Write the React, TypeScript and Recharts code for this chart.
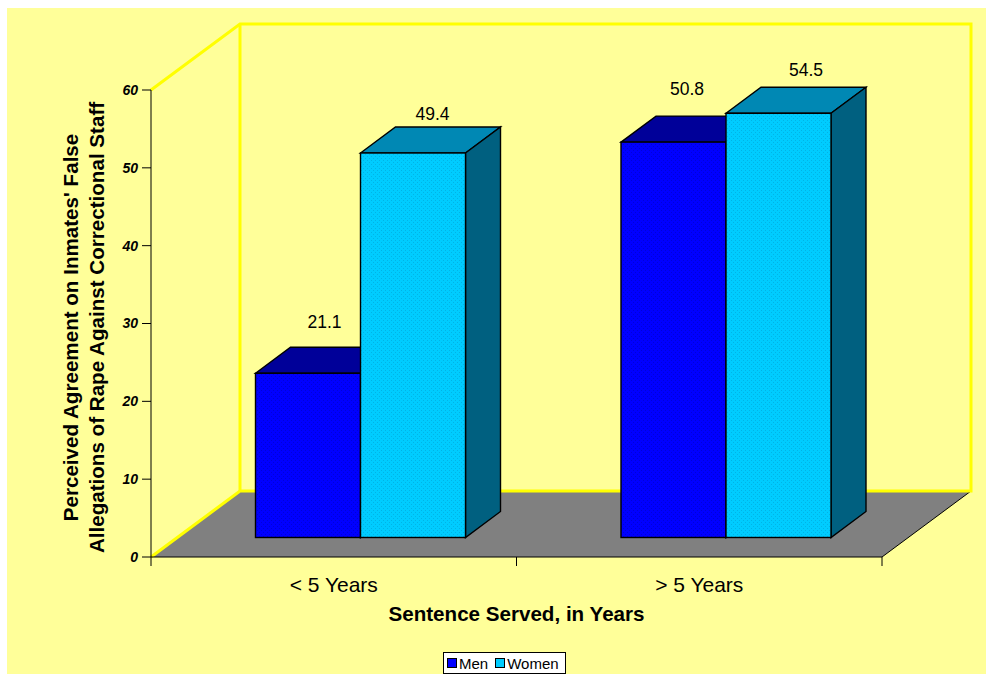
import { BarChart, Bar, XAxis, YAxis, Legend, LabelList } from 'recharts'

const categories = ['< 5 Years', '> 5 Years']
const menValues = [21.1, 50.8]
const womenValues = [49.4, 54.5]
const yTicks = [0, 10, 20, 30, 40, 50, 60]

const chartData = categories.map((name, i) => ({ name, Men: menValues[i], Women: womenValues[i] }))

const W = 979
const H = 666
const plot = { left: 144, top: 82, right: 875, bottom: 549 }
const depth = { x: 89, y: -66 } // wall offset
const barDepth = { x: 35, y: -26 }
const barShift = { x: 26.5, y: -19.5 }
const font = '"Liberation Sans", Arial, sans-serif'

const colors = {
  Men: { front: '#0000ff', dot: '#0000d8', top: '#000099', side: '#000080' },
  Women: { front: '#00ccff', dot: '#00b4e6', top: '#0088b4', side: '#006080', },
}

// small nudges for the value labels, they don't sit evenly in the original
const menLabelNudge = [{ dx: -1, dy: -25 }, { dx: -4, dy: -27 }]
const womenLabelNudge = [{ dx: 2, dy: -13 }, { dx: 10, dy: -17 }]

function Box3D(props: any) {
  const { x, y, width, height, colorKey } = props
  const c = colors[colorKey as 'Men' | 'Women']
  const l = x + barShift.x
  const t = y + barShift.y
  const r = l + width
  const b = t + height
  const dx = barDepth.x
  const dy = barDepth.y
  return (
    <g stroke="#000" strokeWidth={1.4} strokeLinejoin="miter">
      <polygon points={`${l},${t} ${l + dx},${t + dy} ${r + dx},${t + dy} ${r},${t}`} fill={c.top} />
      <polygon points={`${r},${t} ${r + dx},${t + dy} ${r + dx},${b + dy} ${r},${b}`} fill={c.side} />
      <rect x={l} y={t} width={width} height={height} fill={`url(#dots${colorKey})`} />
    </g>
  )
}

function valueLabel(nudge: { dx: number; dy: number }[]) {
  return (props: any) => {
    const { x, y, width, value, index } = props
    const cx = x + barShift.x + width / 2 + barDepth.x / 2 + nudge[index].dx
    const cy = y + barShift.y + barDepth.y + nudge[index].dy
    return (
      <text x={cx} y={cy} textAnchor="middle" dominantBaseline="central" fontSize={17.5} fontFamily={font} fill="#000">
        {value.toFixed(1)}
      </text>
    )
  }
}

function Room() {
  const { left, top, right, bottom } = plot
  const step = (right - left) / categories.length
  const edges = [0, 1, 2].map(i => left + i * step)
  return (
    <g>
      <polygon
        points={`${left},${bottom} ${left + depth.x},${bottom + depth.y} ${right + depth.x},${bottom + depth.y} ${right},${bottom}`}
        fill="#808080"
      />
      <line x1={right} y1={bottom} x2={right + depth.x} y2={bottom + depth.y} stroke="#000" />
      <polyline
        points={`${left},${bottom} ${left + depth.x},${bottom + depth.y} ${right + depth.x},${bottom + depth.y} ${right + depth.x},${top + depth.y} ${left + depth.x},${top + depth.y} ${left},${top}`}
        fill="none"
        stroke="#ffff00"
        strokeWidth={3}
      />
      <line x1={left + depth.x} y1={top + depth.y} x2={left + depth.x} y2={bottom + depth.y} stroke="#ffff00" strokeWidth={3} />
      {edges.map(ex => (
        <line key={ex} x1={ex} y1={bottom} x2={ex} y2={bottom + 9} stroke="#000" />
      ))}
    </g>
  )
}

function Patterns() {
  return (
    <defs>
      {(['Men', 'Women'] as const).map(k => (
        <pattern key={k} id={`dots${k}`} width={4} height={4} patternUnits="userSpaceOnUse">
          <rect width={4} height={4} fill={colors[k].front} />
          <rect x={0} y={0} width={1} height={1} fill={colors[k].dot} />
          <rect x={2} y={2} width={1} height={1} fill={colors[k].dot} />
        </pattern>
      ))}
    </defs>
  )
}

function YTitle() {
  const cy = 319.5
  return (
    <g fontFamily={font} fontSize={20.6} fontWeight="bold" fill="#000" textAnchor="middle">
      <text transform={`translate(63,${cy}) rotate(-90)`} dominantBaseline="central">Perceived Agreement on Inmates' False</text>
      <text transform={`translate(89,${cy}) rotate(-90)`} dominantBaseline="central">Allegations of Rape Against Correctional Staff</text>
    </g>
  )
}

function LegendBox() {
  const item = (k: 'Men' | 'Women') => (
    <span key={k} style={{ display: 'inline-flex', alignItems: 'center', marginRight: 7 }}>
      <span style={{ display: 'inline-block', width: 8, height: 8, background: colors[k].front, border: '1px solid #000', marginRight: 2 }} />
      {k}
    </span>
  )
  return (
    <div
      style={{
        boxSizing: 'border-box',
        width: 123,
        height: 22,
        background: '#fff',
        border: '1px solid #000',
        display: 'flex',
        alignItems: 'center',
        paddingLeft: 3,
        fontFamily: font,
        fontSize: 15,
        color: '#000',
        whiteSpace: 'nowrap',
      }}
    >
      {item('Men')}
      {item('Women')}
    </div>
  )
}

export default function App() {
  return (
    <div style={{ position: 'absolute', left: 7, top: 8, width: W, height: H, background: '#ffff99', overflow: 'hidden' }}>
      <BarChart
        width={W}
        height={H}
        data={chartData}
        barSize={105}
        barGap={0}
        margin={{ top: plot.top, right: W - plot.right, left: 0, bottom: 0 }}
      >
        <Patterns />
        <Room />
        <XAxis
          dataKey="name"
          height={H - plot.bottom}
          tickLine={false}
          axisLine={{ stroke: '#000' }}
          tick={{ fontSize: 21, fontFamily: font, fill: '#000' }}
          tickMargin={14}
          label={{ value: 'Sentence Served, in Years', position: 'insideTop', offset: 49, fontSize: 20.6, fontWeight: 'bold', fontFamily: font, fill: '#000' }}
        />
        <YAxis
          width={plot.left}
          domain={[0, 60]}
          ticks={yTicks}
          tickSize={9}
          tickMargin={4}
          axisLine={{ stroke: '#000' }}
          tickLine={{ stroke: '#000' }}
          tick={{ fontSize: 14, fontStyle: 'italic', fontWeight: 'bold', fontFamily: font, fill: '#000' }}
        />
        <YTitle />
        <Legend
          layout="horizontal"
          verticalAlign="middle"
          content={<LegendBox />}
          wrapperStyle={{ left: 436, top: 644, width: 123, height: 22 }}
        />
        <Bar dataKey="Men" isAnimationActive={false} shape={(p: any) => <Box3D {...p} colorKey="Men" />}>
          <LabelList dataKey="Men" content={valueLabel(menLabelNudge)} />
        </Bar>
        <Bar dataKey="Women" isAnimationActive={false} shape={(p: any) => <Box3D {...p} colorKey="Women" />}>
          <LabelList dataKey="Women" content={valueLabel(womenLabelNudge)} />
        </Bar>
      </BarChart>
    </div>
  )
}
